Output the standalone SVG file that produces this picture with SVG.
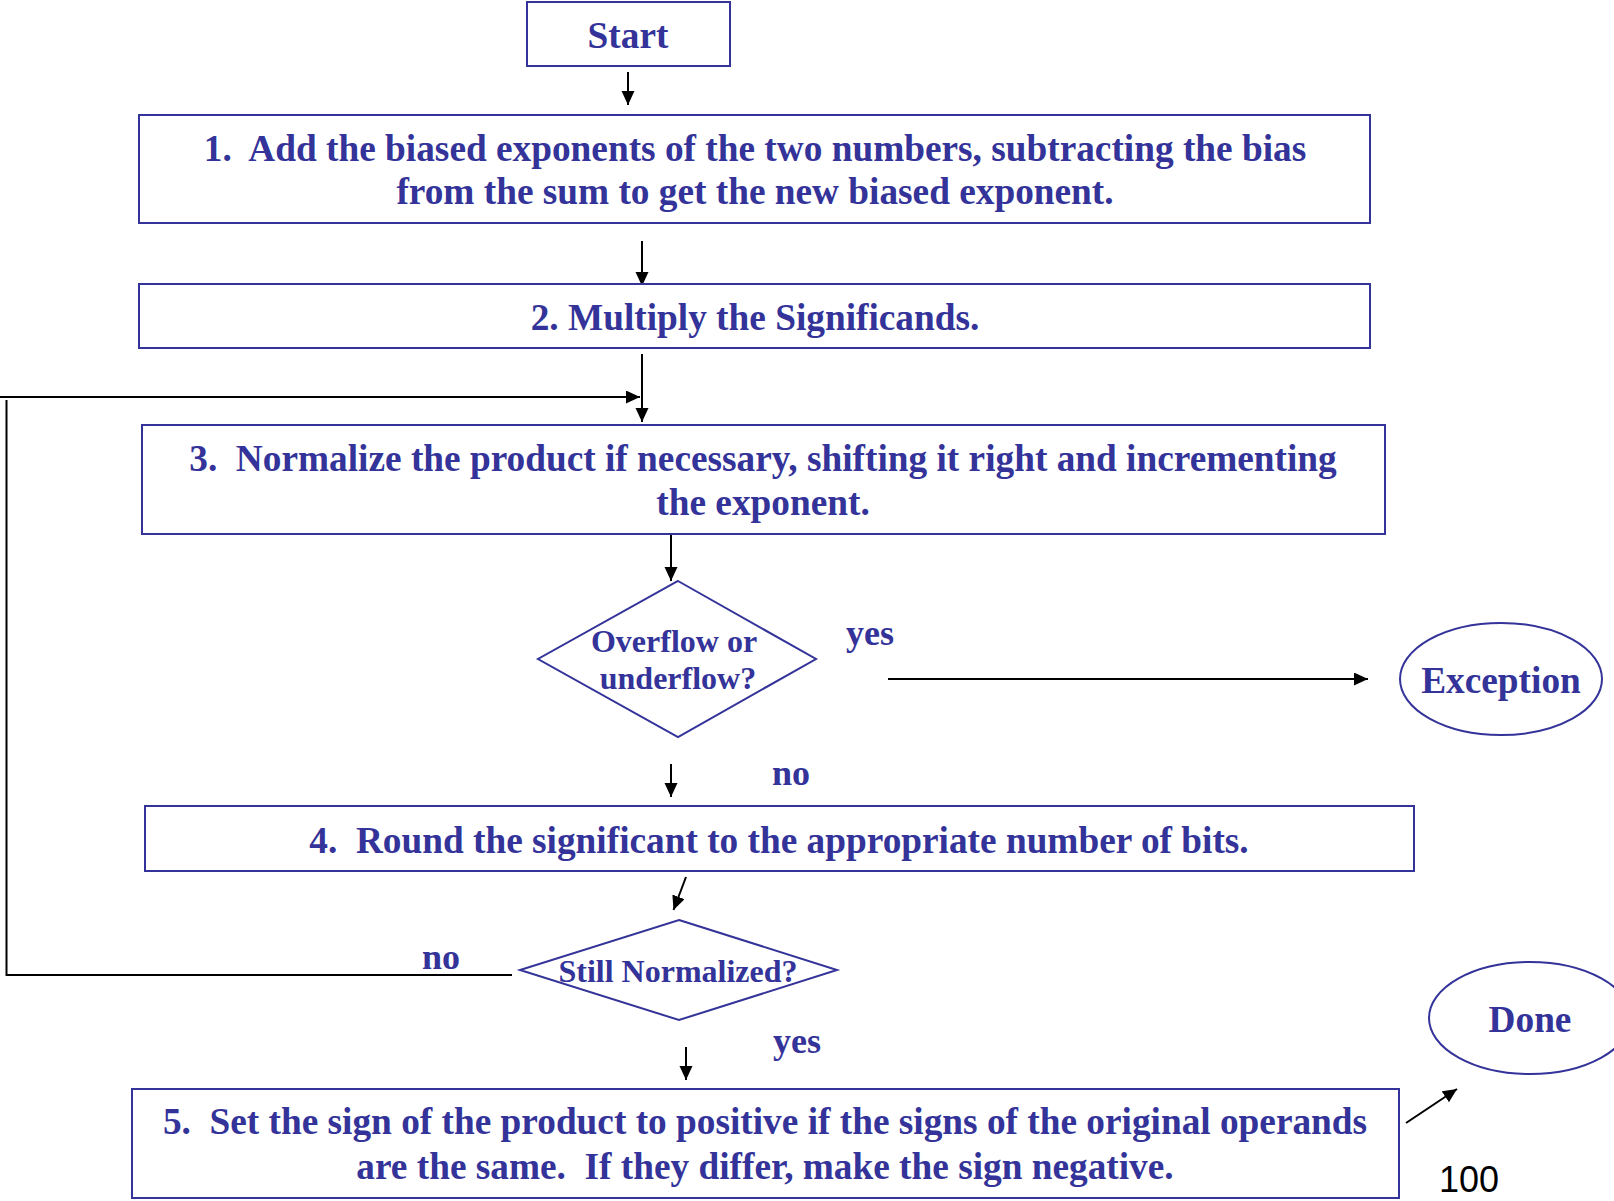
<svg xmlns="http://www.w3.org/2000/svg" width="1614" height="1201" viewBox="0 0 1614 1201">
  <style>
    .box { fill: #ffffff; stroke: #333399; stroke-width: 2; }
    .txt { font-family: "Liberation Serif", "Times New Roman", serif; font-weight: bold; fill: #333399; text-anchor: middle; white-space: pre; }
    .big { font-size: 37.3px; }
    .lbl { font-size: 36px; }
    .dia { font-size: 32px; }
    .wire { fill: none; stroke: #000000; stroke-width: 2; }
    .page { font-family: "Liberation Sans", Arial, sans-serif; font-size: 36px; fill: #000000; }
  </style>
  <defs>
    <marker id="arrow" markerUnits="userSpaceOnUse" markerWidth="16" markerHeight="14" refX="14" refY="6.5" orient="auto">
      <path d="M0,0 L14,6.5 L0,13 Z" fill="#000000"/>
    </marker>
  </defs>

  <rect width="1614" height="1201" fill="#ffffff"/>

  <!-- connectors -->
  <g id="connectors">
    <path class="wire" d="M628,72 V105" marker-end="url(#arrow)"/>
    <path class="wire" d="M642,241 V286" marker-end="url(#arrow)"/>
    <path class="wire" d="M642,354 V422" marker-end="url(#arrow)"/>
    <path class="wire" d="M0,397 H640" marker-end="url(#arrow)"/>
    <path class="wire" d="M512,975 H6.5 V400"/>
    <path class="wire" d="M671,512 V581" marker-end="url(#arrow)"/>
    <path class="wire" d="M888,679 H1368" marker-end="url(#arrow)"/>
    <path class="wire" d="M671,764 V797" marker-end="url(#arrow)"/>
    <path class="wire" d="M686,877 L673.5,910" marker-end="url(#arrow)"/>
    <path class="wire" d="M686,1047 V1080" marker-end="url(#arrow)"/>
    <path class="wire" d="M1406,1123 L1457,1089" marker-end="url(#arrow)"/>
  </g>

  <g id="start">
    <rect class="box" x="527" y="2" width="203" height="64"/>
    <text class="txt big" x="628" y="48">Start</text>
  </g>

  <g id="step1">
    <rect class="box" x="139" y="115" width="1231" height="108"/>
    <text class="txt big" x="755" y="161" xml:space="preserve">1.  Add the biased exponents of the two numbers, subtracting the bias</text>
    <text class="txt big" x="755" y="204">from the sum to get the new biased exponent.</text>
  </g>

  <g id="step2">
    <rect class="box" x="139" y="284" width="1231" height="64"/>
    <text class="txt big" x="755" y="330">2. Multiply the Significands.</text>
  </g>

  <g id="step3">
    <rect class="box" x="142" y="425" width="1243" height="109"/>
    <text class="txt big" x="763" y="471" xml:space="preserve">3.  Normalize the product if necessary, shifting it right and incrementing</text>
    <text class="txt big" x="763" y="515">the exponent.</text>
  </g>

  <g id="check-range">
    <polygon class="box" points="678,581 816,659 678,737 538,659"/>
    <text class="txt dia" x="674" y="652">Overflow or</text>
    <text class="txt dia" x="678" y="689">underflow?</text>
  </g>

  <g id="label-yes-1">
    <text class="txt lbl" x="870" y="645">yes</text>
  </g>

  <g id="exception">
    <ellipse class="box" cx="1501" cy="679" rx="101" ry="56"/>
    <text class="txt big" x="1501" y="693">Exception</text>
  </g>

  <g id="label-no-1">
    <text class="txt lbl" x="791" y="785">no</text>
  </g>

  <g id="step4">
    <rect class="box" x="145" y="806" width="1269" height="65"/>
    <text class="txt big" x="779" y="853" xml:space="preserve">4.  Round the significant to the appropriate number of bits.</text>
  </g>

  <g id="check-normalized">
    <polygon class="box" points="679,920 837,970 679,1020 520,970"/>
    <text class="txt dia" x="678" y="982">Still Normalized?</text>
  </g>

  <g id="label-no-2">
    <text class="txt lbl" x="441" y="969">no</text>
  </g>

  <g id="label-yes-2">
    <text class="txt lbl" x="797" y="1053">yes</text>
  </g>

  <g id="step5">
    <rect class="box" x="132" y="1089" width="1267" height="109"/>
    <text class="txt big" x="765" y="1134" xml:space="preserve">5.  Set the sign of the product to positive if the signs of the original operands</text>
    <text class="txt big" x="765" y="1179" xml:space="preserve">are the same.  If they differ, make the sign negative.</text>
  </g>

  <g id="done">
    <ellipse class="box" cx="1530" cy="1018" rx="101" ry="56"/>
    <text class="txt big" x="1530" y="1032">Done</text>
  </g>

  <text class="page" x="1439" y="1192">100</text>
</svg>
